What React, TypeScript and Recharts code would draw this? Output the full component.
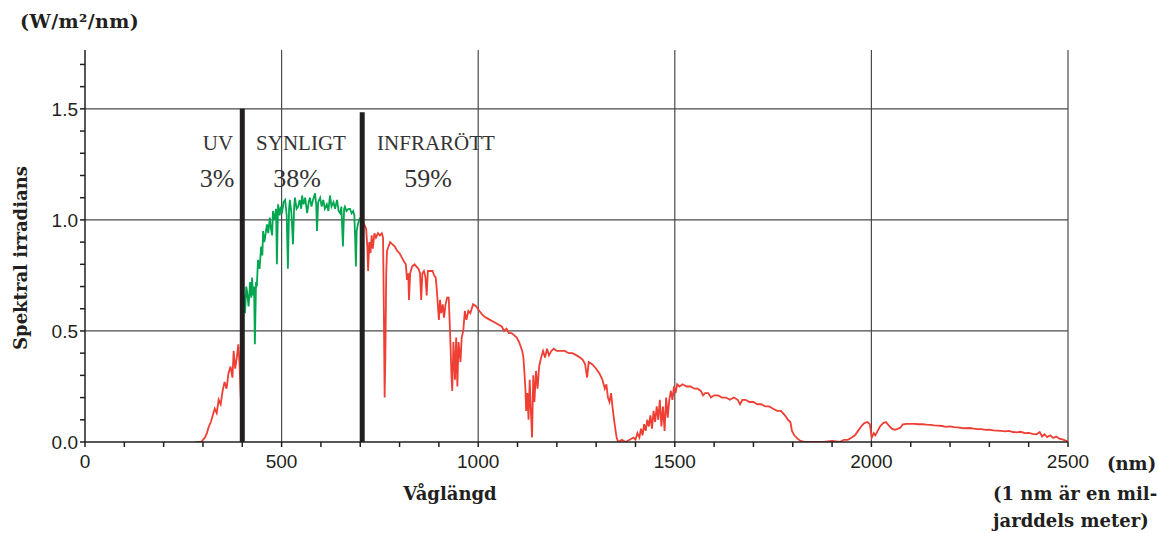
import React from "react";
import {
    LineChart,
    Line,
    XAxis,
    YAxis,
    CartesianGrid,
    ReferenceLine,
} from "recharts";

// [wavelength nm, irradiance W/m²/nm]
const uvSpectrum: [number, number][] = [
    [280, 0], [295, 0], [300, 0.01], [305, 0.02], [310, 0.04], [315, 0.07],
    [320, 0.09], [325, 0.12], [330, 0.15], [335, 0.13], [340, 0.19], [345, 0.17],
    [350, 0.23], [355, 0.27], [360, 0.24], [365, 0.31], [370, 0.34], [375, 0.29],
    [378, 0.41], [382, 0.33], [386, 0.38], [390, 0.44], [393, 0.35], [396, 0.2],
    [400, 0.45],
];

const visibleSpectrum: [number, number][] = [
    [400, 0.58], [404, 0.66], [407, 0.58], [410, 0.7], [412, 0.68], [416, 0.61],
    [420, 0.72], [423, 0.65], [425, 0.74], [427, 0.66], [430, 0.7], [432, 0.44],
    [435, 0.72], [437, 0.7], [440, 0.82], [444, 0.78], [448, 0.88], [451, 0.84],
    [453, 0.95], [456, 0.9], [458, 0.92], [461, 0.96], [463, 0.98], [466, 0.94],
    [470, 1.01], [473, 0.96], [476, 0.93], [478, 1.04], [482, 1.0], [486, 1.05],
    [488, 0.8], [491, 1.07], [495, 1.02], [498, 1.06], [501, 1.03], [505, 1.08],
    [509, 1.09], [513, 1.02], [516, 0.78], [519, 1.05], [521, 1.09], [525, 1.03],
    [529, 0.89], [532, 1.06], [534, 1.1], [538, 1.05], [542, 1.06], [546, 1.09],
    [550, 1.05], [552, 1.11], [556, 1.07], [560, 1.1], [565, 1.03], [569, 1.08],
    [572, 1.1], [576, 1.06], [580, 1.09], [585, 1.12], [588, 1.07], [590, 0.95],
    [593, 1.08], [598, 1.1], [602, 1.06], [606, 1.09], [610, 1.05], [615, 1.07],
    [619, 1.04], [623, 1.11], [627, 1.06], [632, 1.08], [636, 1.05], [641, 1.09],
    [645, 1.04], [649, 1.03], [652, 1.06], [656, 0.88], [659, 1.05], [661, 1.06],
    [665, 1.04], [670, 1.05], [674, 1.05], [678, 1.03], [682, 1.04], [685, 1.02],
    [687, 0.92], [689, 0.79], [691, 0.95], [694, 0.98], [697, 1.0], [700, 1.01],
];

const infraredSpectrum: [number, number][] = [
    [700, 1.01], [705, 0.99], [710, 0.98], [715, 0.96], [718, 0.88], [720, 0.77],
    [723, 0.9], [726, 0.85], [729, 0.93], [732, 0.87], [736, 0.94], [740, 0.92],
    [745, 0.94], [750, 0.93], [755, 0.94], [758, 0.92], [760, 0.6], [762, 0.2],
    [764, 0.4], [766, 0.75], [768, 0.86], [772, 0.88], [776, 0.9], [782, 0.89],
    [788, 0.88], [794, 0.86], [800, 0.85], [806, 0.83], [812, 0.81], [816, 0.8],
    [819, 0.73], [822, 0.76], [824, 0.64], [827, 0.76], [832, 0.79], [838, 0.8],
    [843, 0.79], [848, 0.78], [852, 0.76], [855, 0.64], [858, 0.76], [862, 0.77],
    [866, 0.74], [869, 0.66], [872, 0.77], [878, 0.77], [884, 0.77], [888, 0.75],
    [892, 0.74], [895, 0.68], [898, 0.6], [900, 0.55], [903, 0.64], [906, 0.58],
    [910, 0.62], [913, 0.56], [917, 0.62], [921, 0.65], [925, 0.65], [929, 0.47],
    [932, 0.3], [934, 0.23], [937, 0.45], [941, 0.28], [944, 0.47], [947, 0.25],
    [950, 0.45], [955, 0.36], [958, 0.47], [962, 0.5], [966, 0.59], [970, 0.55],
    [975, 0.59], [980, 0.58], [987, 0.62], [995, 0.61], [1003, 0.59], [1012, 0.57],
    [1020, 0.56], [1030, 0.55], [1040, 0.54], [1050, 0.53], [1060, 0.52], [1066, 0.5],
    [1072, 0.51], [1078, 0.49], [1085, 0.49], [1092, 0.48], [1098, 0.47], [1104, 0.45],
    [1108, 0.43], [1112, 0.41], [1115, 0.38], [1118, 0.3], [1120, 0.24], [1122, 0.14],
    [1125, 0.22], [1128, 0.1], [1131, 0.28], [1134, 0.14], [1137, 0.02], [1140, 0.3],
    [1143, 0.18], [1147, 0.32], [1151, 0.24], [1155, 0.34], [1160, 0.38], [1165, 0.41],
    [1170, 0.38], [1175, 0.42], [1180, 0.39], [1186, 0.41], [1192, 0.42], [1200, 0.41],
    [1210, 0.41], [1220, 0.41], [1230, 0.4], [1240, 0.4], [1250, 0.39], [1259, 0.38],
    [1266, 0.37], [1272, 0.35], [1277, 0.29], [1281, 0.36], [1290, 0.35], [1300, 0.33],
    [1308, 0.31], [1316, 0.28], [1322, 0.24], [1326, 0.26], [1330, 0.2], [1334, 0.18],
    [1338, 0.22], [1342, 0.15], [1347, 0.08], [1352, 0.02], [1356, 0], [1365, 0.01],
    [1375, 0], [1385, 0.01], [1395, 0.02], [1400, 0.01], [1405, 0.04], [1410, 0.02],
    [1414, 0.06], [1418, 0.03], [1422, 0.08], [1426, 0.05], [1430, 0.1], [1434, 0.07],
    [1438, 0.12], [1442, 0.06], [1446, 0.14], [1450, 0.09], [1454, 0.16], [1458, 0.1],
    [1462, 0.19], [1466, 0.07], [1470, 0.16], [1474, 0.05], [1478, 0.2], [1482, 0.11],
    [1486, 0.19], [1490, 0.23], [1494, 0.19], [1498, 0.25], [1502, 0.22], [1506, 0.26],
    [1512, 0.25], [1520, 0.26], [1530, 0.25], [1540, 0.25], [1550, 0.24], [1558, 0.24],
    [1566, 0.23], [1572, 0.21], [1577, 0.22], [1585, 0.22], [1592, 0.2], [1600, 0.21],
    [1610, 0.21], [1620, 0.2], [1630, 0.2], [1640, 0.19], [1650, 0.2], [1660, 0.19],
    [1666, 0.17], [1672, 0.19], [1680, 0.19], [1690, 0.18], [1700, 0.18], [1710, 0.17],
    [1720, 0.17], [1730, 0.16], [1740, 0.16], [1750, 0.15], [1760, 0.14], [1770, 0.14],
    [1780, 0.12], [1788, 0.1], [1794, 0.09], [1798, 0.05], [1804, 0.03], [1812, 0.015],
    [1820, 0.005], [1830, 0], [1860, 0], [1880, 0], [1900, 0.005], [1920, 0],
    [1930, 0.01], [1940, 0.01], [1950, 0.02], [1958, 0.03], [1966, 0.05], [1974, 0.07],
    [1982, 0.085], [1990, 0.09], [1996, 0.08], [2001, 0.02], [2006, 0.04], [2010, 0.03],
    [2016, 0.05], [2022, 0.07], [2030, 0.085], [2037, 0.09], [2044, 0.075], [2052, 0.06],
    [2060, 0.055], [2068, 0.06], [2074, 0.065], [2080, 0.08], [2090, 0.082], [2100, 0.082],
    [2110, 0.082], [2120, 0.08], [2130, 0.08], [2140, 0.078], [2150, 0.077], [2160, 0.075],
    [2170, 0.074], [2180, 0.072], [2190, 0.068], [2200, 0.07], [2210, 0.067], [2220, 0.066],
    [2230, 0.063], [2240, 0.062], [2250, 0.063], [2260, 0.06], [2270, 0.058], [2280, 0.058],
    [2290, 0.055], [2300, 0.056], [2310, 0.052], [2320, 0.051], [2330, 0.05], [2340, 0.048],
    [2350, 0.05], [2360, 0.045], [2370, 0.043], [2380, 0.046], [2390, 0.04], [2400, 0.041],
    [2410, 0.037], [2420, 0.035], [2428, 0.045], [2434, 0.025], [2440, 0.035], [2447, 0.022],
    [2455, 0.03], [2462, 0.018], [2470, 0.025], [2478, 0.015], [2486, 0.012], [2494, 0.006],
    [2500, 0.002],
];

const xTicks = [
    0, 100, 200, 300, 400, 500, 600, 700, 800, 900, 1000, 1100, 1200, 1300,
    1400, 1500, 1600, 1700, 1800, 1900, 2000, 2100, 2200, 2300, 2400, 2500,
];
const xLabelled = [0, 500, 1000, 1500, 2000, 2500];
const yTicks = [0, 0.1, 0.2, 0.3, 0.4, 0.5, 0.6, 0.7, 0.8, 0.9, 1.0, 1.1, 1.2, 1.3, 1.4, 1.5, 1.6, 1.7];
const yLabelled = [0, 0.5, 1.0, 1.5];

// band borders (UV | visible | IR) and how high the bars reach
const bandBorders = [
    { nm: 400, top: 1.5 },
    { nm: 705, top: 1.485 },
];

const bands = [
    { name: "UV", share: "3%" },
    { name: "SYNLIGT", share: "38%" },
    { name: "INFRARÖTT", share: "59%" },
];

const toRows = (pts: [number, number][]) => pts.map(([nm, w]) => ({ nm, w }));

const RED = "#ef3e33";
const GREEN = "#00a650";
const INK = "#231f20";
const GRID = "#4a4a4a";

const W = 1158;
const H = 533;

const bold = {
    fontFamily: "DejaVu Serif",
    fontWeight: 700,
    fontSize: 18,
    fill: INK,
} as const;

const bandText = {
    fontFamily: "Liberation Serif",
    fill: "#333",
    textAnchor: "middle",
} as const;

const App: React.FC = () => {
    return (
        <div style={{ position: "absolute", left: 0, top: 0, width: W, height: H, background: "#fff" }}>
            <LineChart
                width={W}
                height={H}
                margin={{ top: 50, right: 90, bottom: 61, left: 25 }}
            >
                <CartesianGrid
                    stroke={GRID}
                    strokeWidth={1.2}
                    horizontalValues={[0.5, 1.0, 1.5]}
                    verticalValues={[500, 1000, 1500, 2000, 2500]}
                />
                <XAxis
                    type="number"
                    dataKey="nm"
                    domain={[0, 2500]}
                    ticks={xTicks}
                    interval={0}
                    tickFormatter={(v: number) => (xLabelled.includes(v) ? String(v) : "")}
                    stroke={INK}
                    strokeWidth={1.5}
                    tickSize={5}
                    tickMargin={8}
                    height={30}
                    tick={{ fontFamily: "Liberation Sans", fontSize: 19, fill: INK }}
                    allowDataOverflow
                />
                <YAxis
                    type="number"
                    dataKey="w"
                    domain={[0, 1.765]}
                    ticks={yTicks}
                    interval={0}
                    tickFormatter={(v: number) =>
                        yLabelled.some((l) => Math.abs(l - v) < 1e-6) ? v.toFixed(1) : ""
                    }
                    stroke={INK}
                    strokeWidth={1.5}
                    tickSize={5}
                    tickMargin={2}
                    width={60}
                    tick={{ fontFamily: "Liberation Sans", fontSize: 19, fill: INK }}
                    allowDataOverflow
                />
                <Line
                    data={toRows(uvSpectrum)}
                    dataKey="w"
                    type="linear"
                    stroke={RED}
                    strokeWidth={1.8}
                    dot={false}
                    isAnimationActive={false}
                />
                <Line
                    data={toRows(visibleSpectrum)}
                    dataKey="w"
                    type="linear"
                    stroke={GREEN}
                    strokeWidth={1.8}
                    dot={false}
                    isAnimationActive={false}
                />
                <Line
                    data={toRows(infraredSpectrum)}
                    dataKey="w"
                    type="linear"
                    stroke={RED}
                    strokeWidth={1.8}
                    dot={false}
                    isAnimationActive={false}
                />
                {bandBorders.map((b) => (
                    <ReferenceLine
                        key={b.nm}
                        segment={[
                            { x: b.nm, y: 0 },
                            { x: b.nm, y: b.top },
                        ]}
                        stroke={INK}
                        strokeWidth={5}
                    />
                ))}
            </LineChart>

            <svg
                width={W}
                height={H}
                style={{ position: "absolute", left: 0, top: 0, pointerEvents: "none" }}
            >
                <text x={20} y={28} {...bold} fontSize={19} letterSpacing={0.4}>
                    (W/m²/nm)
                </text>
                <text x={27} y={258} {...bold} textAnchor="middle" transform="rotate(-90 27 258)">
                    Spektral irradians
                </text>
                <text x={450} y={500} {...bold} textAnchor="middle">
                    Våglängd
                </text>
                <text x={1107} y={470} {...bold}>
                    (nm)
                </text>
                <text x={993} y={500} {...bold}>
                    (1 nm är en mil-
                </text>
                <text x={993} y={527} {...bold}>
                    jarddels meter)
                </text>

                <text x={218} y={150} {...bandText} fontSize={21}>{bands[0].name}</text>
                <text x={217} y={187} {...bandText} fontSize={26}>{bands[0].share}</text>
                <text x={301} y={150} {...bandText} fontSize={21}>{bands[1].name}</text>
                <text x={297} y={187} {...bandText} fontSize={26}>{bands[1].share}</text>
                <text x={436} y={150} {...bandText} fontSize={21}>{bands[2].name}</text>
                <text x={428} y={187} {...bandText} fontSize={26}>{bands[2].share}</text>
            </svg>
        </div>
    );
};

export default App;
